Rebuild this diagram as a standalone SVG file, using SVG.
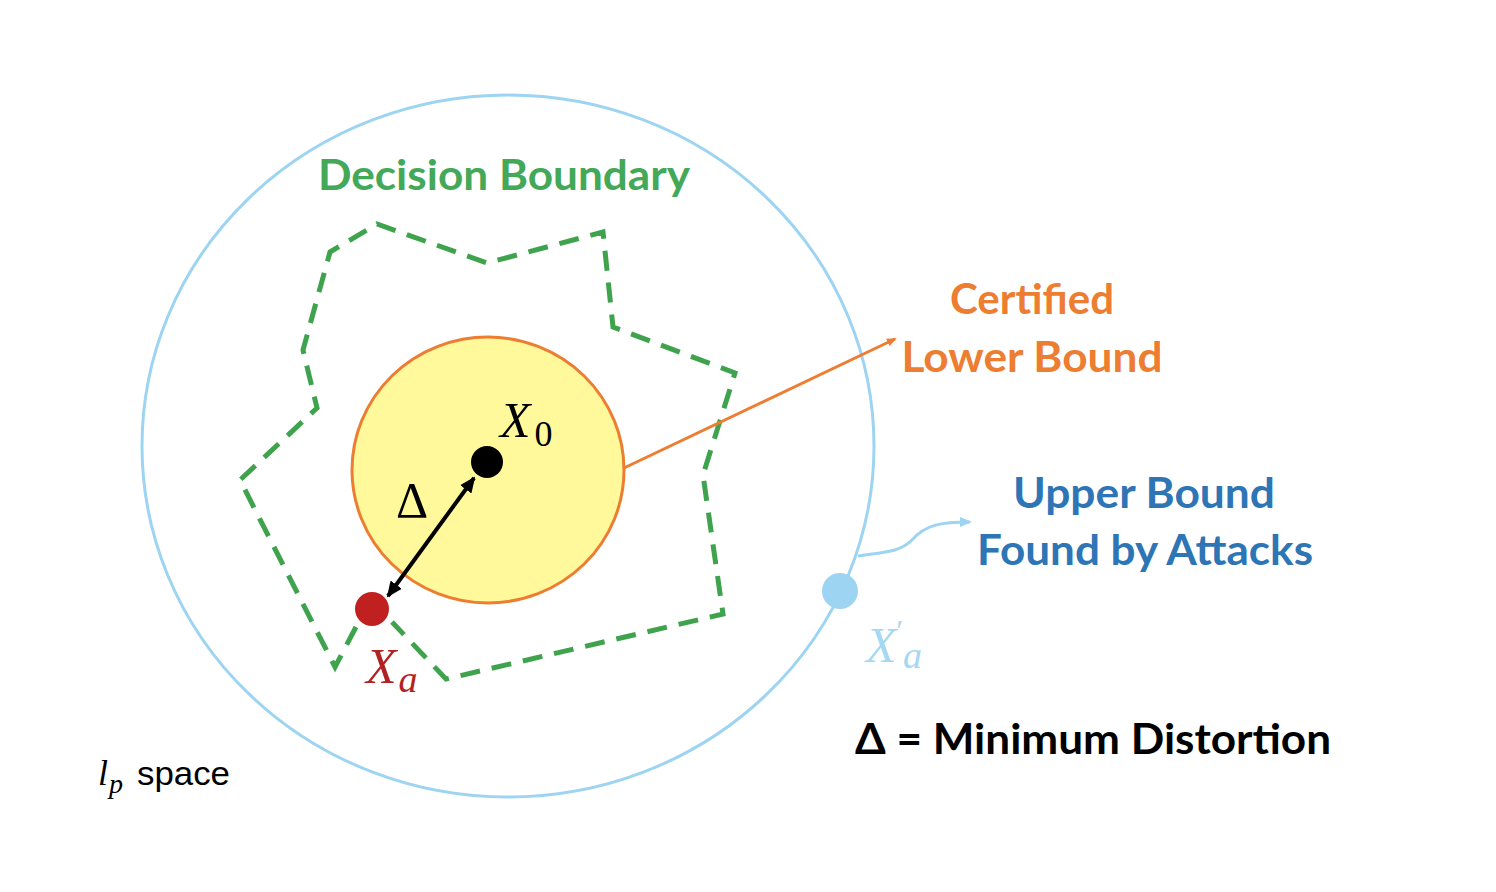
<svg xmlns="http://www.w3.org/2000/svg" width="1496" height="892" viewBox="0 0 1496 892">
<style>
.lbl{font-family:Lato,"Open Sans",sans-serif;font-weight:bold}
.math{font-family:"Liberation Serif","DejaVu Serif",serif;font-style:italic}
.mathr{font-family:"Liberation Serif","DejaVu Serif",serif}
</style>
<defs>
<marker id="ahO" markerWidth="10" markerHeight="10" refX="8" refY="5" orient="auto" markerUnits="userSpaceOnUse"><path d="M0,1 L10,5 L0,9 Z" fill="#ED7D31"/></marker>
<marker id="ahB" markerWidth="12" markerHeight="12" refX="10" refY="6" orient="auto" markerUnits="userSpaceOnUse"><path d="M0,1 L12,6 L0,11 Z" fill="#9DD4F2"/></marker>
<marker id="ahK" markerWidth="16" markerHeight="16" refX="14" refY="8" orient="auto-start-reverse" markerUnits="userSpaceOnUse"><path d="M0,1 L16,8 L0,15 Z" fill="#000"/></marker>
</defs>
<rect width="1496" height="892" fill="#fff"/>
<g id="space">
<ellipse cx="508" cy="446" rx="366" ry="351" fill="none" stroke="#9DD4F2" stroke-width="3"/>
</g>
<g id="boundary">
<path d="M356,627 L335,667 L240,480 L317,408 L303,350 L330,252 L377,224 L487,263 L603,232 L613,327 L735,373 L703,475 L723,614 L446,679 L392,622" fill="none" stroke="#3FA34D" stroke-width="5" stroke-dasharray="20,12"/>
</g>
<g id="certified">
<ellipse cx="488" cy="470" rx="136" ry="133" fill="#FFF99C" stroke="#ED7D31" stroke-width="3"/>
</g>
<g id="connectors">
<line x1="624" y1="468" x2="895" y2="339" stroke="#ED7D31" stroke-width="3" marker-end="url(#ahO)"/>
<path d="M858,556 C885,552 900,552 912,540 C925,525 940,522 970,522" fill="none" stroke="#9DD4F2" stroke-width="3" marker-end="url(#ahB)"/>
<line x1="474" y1="478" x2="388" y2="596" stroke="#000" stroke-width="4" marker-start="url(#ahK)" marker-end="url(#ahK)"/>
</g>
<g id="x0">
<circle cx="487" cy="462" r="16" fill="#000"/>
<text class="math" x="500" y="437" font-size="50" fill="#000">X<tspan class="mathr" font-style="normal" dx="4" dy="9" font-size="36">0</tspan></text>
</g>
<g id="xa">
<circle cx="372" cy="609" r="17" fill="#C0201F"/>
<text class="math" x="366" y="683" font-size="50" fill="#B22222">X<tspan dx="2" dy="9" font-size="38">a</tspan></text>
</g>
<g id="xa-prime">
<circle cx="840" cy="591" r="18" fill="#9DD4F2"/>
<text class="math" x="866" y="662" font-size="50" fill="#A5D8F2">X<tspan font-style="normal" dy="-22" font-size="30">′</tspan><tspan dy="28" font-size="38">a</tspan></text>
</g>
<g id="delta">
<text class="mathr" x="396" y="517" font-size="50" fill="#000">Δ</text>
</g>
<g id="labels">
<text class="lbl" x="504" y="190" font-size="42" fill="#43A857" text-anchor="middle" textLength="372" lengthAdjust="spacingAndGlyphs">Decision Boundary</text>
<text class="lbl" x="1032" y="314" font-size="42" fill="#ED7D31" text-anchor="middle">Certified</text>
<text class="lbl" x="1032" y="372" font-size="42" fill="#ED7D31" text-anchor="middle" textLength="261" lengthAdjust="spacingAndGlyphs">Lower Bound</text>
<text class="lbl" x="1144" y="508" font-size="42" fill="#2E75B6" text-anchor="middle" textLength="262" lengthAdjust="spacingAndGlyphs">Upper Bound</text>
<text class="lbl" x="1145" y="565" font-size="42" fill="#2E75B6" text-anchor="middle" textLength="336" lengthAdjust="spacingAndGlyphs">Found by Attacks</text>
<text class="lbl" x="855" y="754" font-size="42" fill="#000" textLength="476" lengthAdjust="spacingAndGlyphs">Δ = Minimum Distortion</text>
<text class="math" x="98" y="785" font-size="36" fill="#000">l<tspan dx="1" dy="8" font-size="28">p</tspan></text>
<text x="137" y="785" font-size="34" fill="#000" font-family="Liberation Sans,Arial,sans-serif" textLength="93" lengthAdjust="spacingAndGlyphs">space</text>
</g>
</svg>
